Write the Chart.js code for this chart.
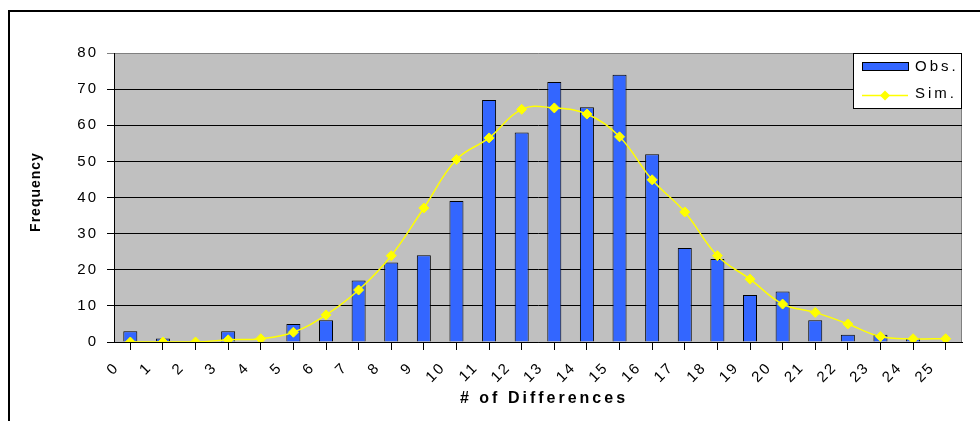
<!DOCTYPE html>
<html>
<head>
<meta charset="utf-8">
<script src="https://cdn.jsdelivr.net/npm/chart.js@4.4.1/dist/chart.umd.min.js"></script>
<style>
  body { margin: 0; background: #fff; }
  canvas { display: block; }
</style>
</head>
<body>
<canvas id="diff-chart" width="980" height="421"></canvas>
<script>
// Chart data
let categories = [0, 1, 2, 3, 4, 5, 6, 7, 8, 9, 10, 11, 12, 13, 14, 15, 16, 17, 18, 19, 20, 21, 22, 23, 24, 25];
let tickLabels = ['0', '1', '2', '3', '4', '5', '6', '7', '8', '9', '10', '11', '12',
    '13', '14', '15', '16', '17', '18', '19', '20', '21', '22', '23', '24', '25'];
let obsValues = [3, 1, 0, 3, 0, 5, 6, 17, 22, 24, 39, 67, 58, 72, 65, 74, 52, 26, 23, 13, 14, 6, 2, 2, 1, 0];
let simValues = [0, 0, 0, 0.6, 0.9, 2.7, 7.5, 14.4, 23.9, 37.1, 50.5, 56.5, 64.4, 64.8, 63.1, 56.8,
    44.9, 36, 23.9, 17.4, 10.5, 8.2, 5, 1.5, 0.9, 0.9];
let seriesNames = ['Obs.', 'Sim.'];
let xTitle = '# of Differences';
let yTitle = 'Frequency';

const FONT = 'Liberation Sans, Arial, sans-serif';

// bars sit in the middle of each bin, labels sit on the bin edges
const obsPoints = categories.map((c, i) => ({ x: c + 0.5, y: obsValues[i] }));
const simPoints = categories.map((c, i) => ({ x: c + 0.5, y: simValues[i] }));

const decor = {
    id: 'decor',
    beforeDraw(chart) {
        const ctx = chart.ctx;
        const a = chart.chartArea;
        ctx.save();
        ctx.fillStyle = '#fff';
        ctx.fillRect(0, 0, chart.width, chart.height);
        // outer frame
        ctx.strokeStyle = '#000';
        ctx.lineWidth = 2;
        ctx.beginPath();
        ctx.moveTo(chart.width, 11);
        ctx.lineTo(9, 11);
        ctx.lineTo(9, chart.height);
        ctx.stroke();
        // plot area
        ctx.fillStyle = '#c0c0c0';
        ctx.fillRect(a.left, a.top, a.right - a.left, a.bottom - a.top);
        ctx.strokeStyle = '#808080';
        ctx.lineWidth = 1;
        ctx.beginPath();
        ctx.moveTo(a.right - 0.5, a.top);
        ctx.lineTo(a.right - 0.5, a.bottom);
        ctx.stroke();
        ctx.restore();
        ctx.letterSpacing = '2px';
    },
    afterDraw(chart) {
        const ctx = chart.ctx;
        const a = chart.chartArea;
        ctx.save();
        ctx.fillStyle = '#000';

        // axis titles
        ctx.letterSpacing = '3px';
        ctx.font = 'bold 16px ' + FONT;
        ctx.textAlign = 'left';
        ctx.textBaseline = 'alphabetic';
        ctx.fillText(xTitle, 460, 403);

        ctx.letterSpacing = '1px';
        ctx.font = 'bold 14px ' + FONT;
        ctx.translate(40, 192);
        ctx.rotate(-Math.PI / 2);
        ctx.textAlign = 'center';
        ctx.fillText(yTitle, 0, 0);
        ctx.setTransform(1, 0, 0, 1, 0, 0);

        // legend box in the top right corner of the plot
        const bx = a.right - 109, by = a.top, bw = 109, bh = 56;
        ctx.fillStyle = '#fff';
        ctx.fillRect(bx, by, bw, bh);
        ctx.strokeStyle = '#000';
        ctx.lineWidth = 1;
        ctx.strokeRect(bx + 0.5, by + 0.5, bw - 1, bh - 1);

        const obs = chart.data.datasets[1];
        const sim = chart.data.datasets[0];
        ctx.fillStyle = obs.backgroundColor;
        ctx.fillRect(bx + 9, by + 9, 46, 9);
        ctx.strokeRect(bx + 9.5, by + 9.5, 46, 8);

        ctx.strokeStyle = sim.borderColor;
        ctx.lineWidth = 1.5;
        ctx.beginPath();
        ctx.moveTo(bx + 9, by + 42.5);
        ctx.lineTo(bx + 55, by + 42.5);
        ctx.stroke();
        ctx.fillStyle = sim.pointBackgroundColor;
        ctx.beginPath();
        ctx.moveTo(bx + 32, by + 37.5);
        ctx.lineTo(bx + 37, by + 42.5);
        ctx.lineTo(bx + 32, by + 47.5);
        ctx.lineTo(bx + 27, by + 42.5);
        ctx.closePath();
        ctx.fill();

        ctx.fillStyle = '#000';
        ctx.letterSpacing = '3px';
        ctx.font = '15px ' + FONT;
        ctx.textAlign = 'left';
        ctx.fillText(seriesNames[0], bx + 62, by + 18);
        ctx.fillText(seriesNames[1], bx + 62, by + 45);
        ctx.restore();
        ctx.letterSpacing = '0px';
    }
};

const ctx = document.getElementById('diff-chart').getContext('2d');
const diffChart = new Chart(ctx, {
    type: 'bar',
    data: {
        datasets: [{
            type: 'line',
            label: seriesNames[1],
            data: simPoints,
            borderColor: '#ffff00',
            borderWidth: 1.5,
            tension: 0.4,
            pointStyle: 'rectRot',
            pointRadius: 5,
            pointBackgroundColor: '#ffff00',
            pointBorderColor: '#ffff00',
            pointBorderWidth: 1,
            order: 0
        }, {
            type: 'bar',
            label: seriesNames[0],
            data: obsPoints,
            backgroundColor: '#3366ff',
            borderColor: '#000',
            borderWidth: 1,
            borderSkipped: 'start',
            categoryPercentage: 1,
            barPercentage: 0.43,
            order: 1
        }]
    },
    options: {
        responsive: false,
        animation: false,
        devicePixelRatio: 1,
        layout: { padding: { top: 53, right: 18, left: 0, bottom: 0 } },
        plugins: {
            legend: { display: false },
            tooltip: { enabled: false }
        },
        scales: {
            x: {
                type: 'linear',
                min: 0,
                max: 26,
                offset: false,
                afterFit(scale) {
                    scale.height = 79;
                    scale.paddingLeft = 0;
                    scale.paddingRight = 0;
                },
                grid: { drawOnChartArea: false, drawTicks: true, tickLength: 8, color: '#000' },
                border: { color: '#000', width: 1 },
                ticks: {
                    stepSize: 1,
                    maxTicksLimit: 40,
                    autoSkip: false,
                    minRotation: 45,
                    maxRotation: 45,
                    padding: 9,
                    labelOffset: 3,
                    color: '#000',
                    font: { family: FONT, size: 15 },
                    callback: (value) => tickLabels[value] !== undefined ? tickLabels[value] : ''
                }
            },
            y: {
                min: 0,
                max: 80,
                afterFit(scale) {
                    scale.width = 114;
                    scale.paddingTop = 0;
                    scale.paddingBottom = 0;
                },
                grid: {
                    color: (c) => c.tick && c.tick.value === 80 ? '#808080' : '#000',
                    tickLength: 7
                },
                border: { color: '#000', width: 1 },
                ticks: {
                    stepSize: 10,
                    padding: 9,
                    color: '#000',
                    font: { family: FONT, size: 15 }
                }
            }
        }
    },
    plugins: [decor]
});
</script>
</body>
</html>
